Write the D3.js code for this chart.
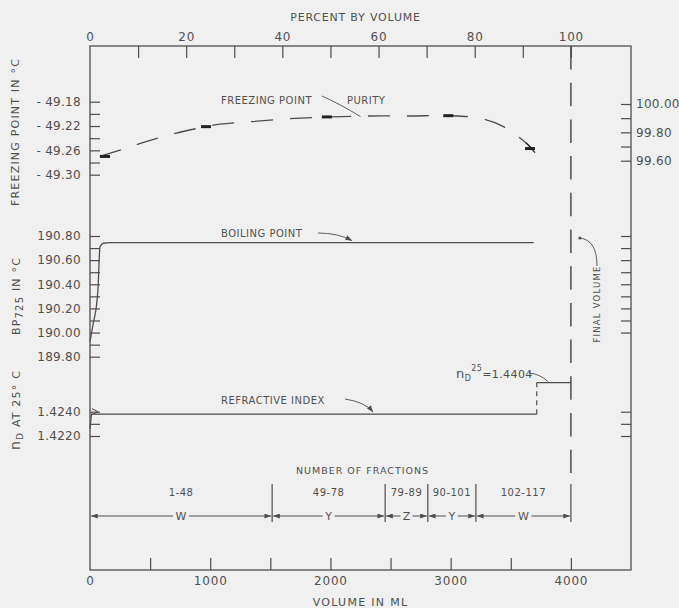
<!DOCTYPE html>
<html><head><meta charset="utf-8">
<script src="https://cdn.jsdelivr.net/npm/d3@7"></script>
<style>
body{margin:0;background:#f0f0f0;}
svg{display:block;font-family:"DejaVu Sans",sans-serif;}
</style></head><body><svg id="c" width="679" height="608"></svg>
<script>
// ---- data ----
const fpVolume=[80,290,480,690,890,1080,1330,1660,2000,2330,2660,3000,3260,3440,3580,3690];
const fpValues=[-49.270,-49.257,-49.245,-49.233,-49.224,-49.217,-49.213,-49.208,-49.205,-49.2035,-49.2035,-49.203,-49.208,-49.221,-49.240,-49.259];
const fpMarkVolume=[125,965,1970,2980,3660];
const fpMarkValues=[-49.270,-49.221,-49.205,-49.203,-49.257];
const bpVolume=[0,27,56,69,75,83,111,166,3690];
const bpValues=[189.924,190.077,190.243,190.408,190.574,190.711,190.740,190.745,190.745];
const riVolume=[0,12,3716];
const riValues=[1.4226,1.4238,1.4238];
const riStepVolume=[3716,4000];
const riStepValue=1.4264;
const fractionBounds=[0,1515,2455,2810,3210,4000];
const fractionLabels=["1-48","49-78","79-89","90-101","102-117"];
const fractionTypes=["W","Y","Z","Y","W"];
const volumeTicks=[500,1000,1500,2000,2500,3000,3500,4000];
const volumeLabels=[0,1000,2000,3000,4000];
const percentTicks=[10,20,30,40,50,60,70,80,90,100];
const percentLabels=[0,20,40,60,80,100];
const fpTicks=[-49.18,-49.20,-49.22,-49.24,-49.26,-49.28,-49.30];
const fpLabels=[-49.18,-49.22,-49.26,-49.30];
const purityTicks=[100.0,99.9,99.8,99.7,99.6];
const purityLabels=[100.0,99.8,99.6];
const bpTicks=[190.8,190.7,190.6,190.5,190.4,190.3,190.2,190.1,190.0,189.9,189.8];
const bpLabels=[190.8,190.6,190.4,190.2,190.0,189.8];
const bpRightTicks=[190.8,190.7,190.6,190.5,190.4,190.3,190.2,190.1,190.0];
const riTicks=[1.4240,1.4230,1.4220];
const riLabels=[1.4240,1.4220];
const finalVolume=4000;

// ---- scales ----
const L=90,R=631,T=46,B=570;
const x=d3.scaleLinear([0,4500],[L,R]);
const pct=d3.scaleLinear([0,100],[x(0),x(4000)]);
const fp=d3.scaleLinear([-49.30,-49.18],[174.7,101.7]);
const pur=d3.scaleLinear([99.6,100.0],[160.7,104]);
const bp=d3.scaleLinear([189.8,190.8],[356.7,236]);
const ri=d3.scaleLinear([1.4220,1.4240],[436,411.7]);

const ink="#4d4d4d", txt="#505050";
const svg=d3.select("#c");
const defs=svg.append("defs");
defs.append("marker").attr("id","arr").attr("viewBox","0 0 8 6").attr("refX",8).attr("refY",3)
 .attr("markerWidth",7).attr("markerHeight",5).attr("markerUnits","userSpaceOnUse").attr("orient","auto")
 .append("path").attr("d","M0,0L8,3L0,6z").attr("fill",ink);

function styleAxis(g,size,ls){
  g.select(".domain").remove();
  g.selectAll("line").attr("stroke",ink).attr("stroke-width",1.2);
  g.selectAll("text").attr("fill",txt).attr("font-size",size).attr("font-family","DejaVu Sans, sans-serif")
   .attr("letter-spacing",ls||0);
}
// bottom axis
svg.append("g").attr("transform",`translate(0,${B})`)
 .call(d3.axisBottom(x).tickValues(volumeTicks).tickSizeInner(-12).tickSizeOuter(0).tickFormat(""))
 .call(g=>styleAxis(g,12));
svg.append("g").attr("transform",`translate(0,${B})`)
 .call(d3.axisBottom(x).tickValues(volumeLabels).tickSize(0).tickPadding(6).tickFormat(d3.format("d")))
 .call(g=>styleAxis(g,12,0.8));
// top axis
svg.append("g").attr("transform",`translate(0,${T})`)
 .call(d3.axisTop(pct).tickValues(percentTicks).tickSizeInner(-12).tickSizeOuter(0).tickFormat(""))
 .call(g=>styleAxis(g,12));
svg.append("g").attr("transform",`translate(0,${T})`)
 .call(d3.axisTop(pct).tickValues(percentLabels).tickSize(0).tickPadding(5).tickFormat(d3.format("d")))
 .call(g=>styleAxis(g,12,0.8));
// left axes
function leftAxis(scale,ticks,labels,fmt){
  svg.append("g").attr("transform",`translate(${L},0)`)
   .call(d3.axisLeft(scale).tickValues(ticks).tickSizeInner(-10).tickSizeOuter(0).tickFormat(""))
   .call(g=>styleAxis(g,12));
  svg.append("g").attr("transform",`translate(${L},0)`)
   .call(d3.axisLeft(scale).tickValues(labels).tickSize(0).tickPadding(9).tickFormat(fmt))
   .call(g=>styleAxis(g,12,0.3));
}
leftAxis(fp,fpTicks,fpLabels,d=>"- "+Math.abs(d).toFixed(2));
leftAxis(bp,bpTicks,bpLabels,d=>d.toFixed(2));
leftAxis(ri,riTicks,riLabels,d=>d.toFixed(4));
// right axes
function rightAxis(scale,ticks,labels,fmt){
  svg.append("g").attr("transform",`translate(${R},0)`)
   .call(d3.axisRight(scale).tickValues(ticks).tickSizeInner(-10).tickSizeOuter(0).tickFormat(""))
   .call(g=>styleAxis(g,12));
  if(labels) svg.append("g").attr("transform",`translate(${R},0)`)
   .call(d3.axisRight(scale).tickValues(labels).tickSize(0).tickPadding(5).tickFormat(fmt))
   .call(g=>styleAxis(g,12,0.3));
}
rightAxis(pur,purityTicks,purityLabels,d=>d.toFixed(2));
rightAxis(bp,bpRightTicks,null);
rightAxis(ri,riTicks,null);

// frame
svg.append("rect").attr("x",L).attr("y",T).attr("width",R-L).attr("height",B-T)
 .attr("fill","none").attr("stroke",ink).attr("stroke-width",1.3);

// axis titles
function t(xp,yp,s,size,ls,anchor){
  return svg.append("text").attr("x",xp).attr("y",yp).attr("fill",txt).attr("font-size",size)
   .attr("letter-spacing",ls||0).attr("text-anchor",anchor||"middle").text(s);
}
t((L+R)/2-5,21,"PERCENT BY VOLUME",11,0.8);
t((L+R)/2,606,"VOLUME IN ML",11,1.3);
svg.append("text").attr("transform","translate(19,132) rotate(-90)").attr("text-anchor","middle")
 .attr("fill",txt).attr("font-size",11).attr("letter-spacing",1.2).text("FREEZING POINT IN °C");
const bt=svg.append("text").attr("transform","translate(20,296) rotate(-90)").attr("text-anchor","middle")
 .attr("fill",txt).attr("font-size",11).attr("letter-spacing",1.2);
bt.append("tspan").text("BP");
bt.append("tspan").attr("dy",3).attr("font-size",10).text("725");
bt.append("tspan").attr("dy",-3).text(" IN °C");
const rt=svg.append("text").attr("transform","translate(20,410) rotate(-90)").attr("text-anchor","middle")
 .attr("fill",txt).attr("font-size",11).attr("letter-spacing",1.2);
rt.append("tspan").attr("font-size",14).text("n");
rt.append("tspan").attr("dy",3).attr("font-size",9).text("D");
rt.append("tspan").attr("dy",-3).text(" AT 25° C");

// freezing point dashed curve
const fpLine=d3.line().x(d=>x(d[0])).y(d=>fp(d[1])).curve(d3.curveCatmullRom);
svg.append("path").datum(fpVolume.map((v,i)=>[v,fpValues[i]])).attr("d",fpLine)
 .attr("fill","none").attr("stroke",ink).attr("stroke-width",1.3).attr("stroke-dasharray","22,17");
svg.selectAll(".fpm").data(fpMarkVolume).join("line")
 .attr("x1",(v)=>x(v)-5).attr("x2",v=>x(v)+5)
 .attr("y1",(v,i)=>fp(fpMarkValues[i])).attr("y2",(v,i)=>fp(fpMarkValues[i]))
 .attr("stroke","#222").attr("stroke-width",3);
{ const v=fpMarkVolume[4], yv=fp(fpMarkValues[4]);
  svg.append("line").attr("x1",x(v)-4).attr("y1",yv-6).attr("x2",x(v)+5).attr("y2",yv+4)
   .attr("stroke","#222").attr("stroke-width",1.2); }

// boiling point
const bpLine=d3.line().x(d=>x(d[0])).y(d=>bp(d[1])).curve(d3.curveMonotoneX);
svg.append("path").datum(bpVolume.map((v,i)=>[v,bpValues[i]])).attr("d",bpLine)
 .attr("fill","none").attr("stroke",ink).attr("stroke-width",1.3);

// refractive index
svg.append("path").datum(riVolume.map((v,i)=>[v,riValues[i]]))
 .attr("d",d3.line().x(d=>x(d[0])).y(d=>ri(d[1])))
 .attr("fill","none").attr("stroke",ink).attr("stroke-width",1.3);
svg.append("line").attr("x1",x(riStepVolume[0])).attr("x2",x(riStepVolume[0]))
 .attr("y1",ri(riValues[2])).attr("y2",ri(riStepValue))
 .attr("stroke",ink).attr("stroke-width",1.2).attr("stroke-dasharray","5,4");
svg.append("line").attr("x1",x(riStepVolume[0])).attr("x2",x(riStepVolume[1]))
 .attr("y1",ri(riStepValue)).attr("y2",ri(riStepValue)).attr("stroke",ink).attr("stroke-width",1.3);
svg.append("path").attr("d",`M${x(0)+2},${ri(1.4240)-3}l6,3l-6,3`).attr("fill","none").attr("stroke",ink).attr("stroke-width",1);

// final volume dashed line
svg.append("line").attr("x1",x(finalVolume)).attr("x2",x(finalVolume)).attr("y1",T).attr("y2",473)
 .attr("stroke",ink).attr("stroke-width",1.5).attr("stroke-dasharray","23.5,13.2");

// annotations
t(221,104,"FREEZING POINT",10,0.5,"start");
t(347,104,"PURITY",10,0.5,"start");
svg.append("path").attr("d",`M322,96 Q340,104 ${x(2250)},${fp(-49.2045)}`).attr("fill","none").attr("stroke",ink).attr("stroke-width",0.9);
t(221,237,"BOILING POINT",10,0.5,"start");
svg.append("path").attr("d",`M318,233 Q338,233 ${x(2180)},${bp(190.745)-2}`).attr("fill","none").attr("stroke",ink)
 .attr("stroke-width",0.9).attr("marker-end","url(#arr)");
t(221,404,"REFRACTIVE INDEX",10,0.5,"start");
svg.append("path").attr("d",`M345,399 Q365,402 ${x(2355)},${ri(1.4238)-2}`).attr("fill","none").attr("stroke",ink)
 .attr("stroke-width",0.9).attr("marker-end","url(#arr)");
const nt=svg.append("text").attr("x",456).attr("y",378).attr("fill",txt).attr("font-size",11).attr("letter-spacing",0.4);
nt.append("tspan").attr("font-size",13).text("n");
nt.append("tspan").attr("dy",3).attr("font-size",8).text("D");
nt.append("tspan").attr("dy",-10).attr("font-size",8).text("25");
nt.append("tspan").attr("dy",7).text("=1.4404");
svg.append("path").attr("d",`M529,373 Q540,374 ${x(3810)},${ri(riStepValue)-1}`).attr("fill","none").attr("stroke",ink).attr("stroke-width",0.9);
svg.append("text").attr("transform","translate(600,304) rotate(-90)").attr("text-anchor","middle")
 .attr("fill",txt).attr("font-size",8.5).attr("letter-spacing",1.2).text("FINAL VOLUME");
svg.append("path").attr("d",`M597,266 Q597,240 ${x(finalVolume)+9},238`).attr("fill","none").attr("stroke",ink).attr("stroke-width",0.9);
svg.append("circle").attr("cx",x(finalVolume)+9).attr("cy",238).attr("r",1.5).attr("fill",ink);

// fractions
t((L+R)/2+2,474,"NUMBER OF FRACTIONS",9.5,1);
svg.selectAll(".fb").data(fractionBounds.slice(1)).join("line")
 .attr("x1",d=>x(d)).attr("x2",d=>x(d)).attr("y1",484).attr("y2",522).attr("stroke",ink).attr("stroke-width",1.2);
fractionLabels.forEach((lab,i)=>{
  const a=x(fractionBounds[i]), b=x(fractionBounds[i+1]), m=(a+b)/2;
  t(m,496,lab,10,0.5);
  t(m,520,fractionTypes[i],11,0);
  const w=fractionTypes[i]==="W"?8:6;
  svg.append("line").attr("x1",m-w).attr("x2",a+1).attr("y1",516).attr("y2",516)
   .attr("stroke",ink).attr("stroke-width",1).attr("marker-end","url(#arr)");
  svg.append("line").attr("x1",m+w).attr("x2",b-1).attr("y1",516).attr("y2",516)
   .attr("stroke",ink).attr("stroke-width",1).attr("marker-end","url(#arr)");
});
</script></body></html>
